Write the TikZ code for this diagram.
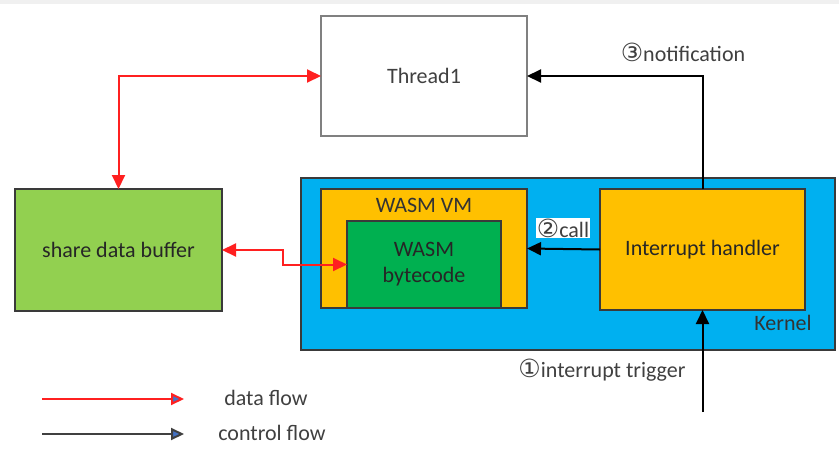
\documentclass[tikz,border=0pt]{standalone}
\usepackage{fontspec}
\setmainfont{Carlito}
\newfontfamily\circfont{DejaVu Sans}
\newcommand\stepnum[1]{{\circfont\fontsize{25}{25}\selectfont #1}}
\usetikzlibrary{arrows.meta}
\definecolor{kernelblue}{HTML}{00B0F0}
\definecolor{vmorange}{HTML}{FFC000}
\definecolor{codegreen}{HTML}{00B050}
\definecolor{buffergreen}{HTML}{92D050}
\definecolor{edgegray}{HTML}{3A3A3A}
\definecolor{threadgray}{HTML}{808080}
\definecolor{labelgray}{HTML}{404040}
\definecolor{flowred}{HTML}{FF2020}
\definecolor{tipblue}{HTML}{4472C4}
\tikzset{
  blockbox/.style={draw=edgegray, line width=1.8pt, rectangle, inner sep=2pt, outer sep=0pt,
    text=black!85, align=center},
  dataflow/.style={draw=flowred, line width=2pt,
    {Triangle[length=14pt,width=13pt]}-{Triangle[length=14pt,width=13pt]}},
  ctrlflow/.style={draw=black, line width=2pt, -{Triangle[length=14pt,width=13pt]}},
  steplabel/.style={text=labelgray, inner sep=1pt},
}
\begin{document}
\begin{tikzpicture}[x=1pt, y=-1pt, font=\fontsize{22}{26}\selectfont]
\useasboundingbox (0,0) rectangle (839,448);
\fill[black!6] (0,0) rectangle (839,4);

% kernel region with its components
\node[blockbox, fill=kernelblue, minimum width=534pt, minimum height=172pt] (kernel) at (568,264) {};
\node[text=black!80, anchor=center] (kernellabel) at (783,323) {Kernel};
\node[blockbox, fill=vmorange, minimum width=206pt, minimum height=119pt] (vm) at (424,248.5) {};
\node[text=black!80] (vmlabel) at (424,205) {WASM VM};
\node[blockbox, fill=codegreen, minimum width=154pt, minimum height=87pt] (code) at (424,264.5) {WASM\\bytecode};
\node[blockbox, fill=vmorange, minimum width=205pt, minimum height=121pt] (handler) at (702.5,249.5) {Interrupt handler};

% user side
\node[blockbox, draw=threadgray, fill=white, text=labelgray, minimum width=206pt, minimum height=120pt] (thread) at (424,76) {Thread1};
\node[blockbox, fill=buffergreen, minimum width=207pt, minimum height=122pt] (buffer) at (118.5,250) {share data buffer};

% data flow
\draw[dataflow] (thread.west) -| (buffer.north);
\draw[dataflow] (buffer.east) -- ++(61,0) |- (code.west);

% control flow
\draw[ctrlflow] (handler.north) |- (thread.east);
\draw[ctrlflow] (handler.west) -- (vm.east);
\coordinate (trigger) at (702.5,412);
\draw[ctrlflow] (trigger) -- (handler.south);

% step labels
\node[steplabel] (notif) at (683,52) {\stepnum{③}notification};
\node[steplabel, fill=white] (call) at (563,228) {\stepnum{②}call};
\node[steplabel] (trig) at (602,370) {\stepnum{①}interrupt trigger};

% legend
\coordinate (dA) at (42,399);
\coordinate (dB) at (184,399);
\coordinate (cA) at (42,434);
\coordinate (cB) at (184,434);
\draw[draw=flowred, line width=2pt, -{Triangle[length=13pt,width=12pt,fill=tipblue]}] (dA) -- (dB);
\draw[draw=black!75, line width=2pt, -{Triangle[length=13pt,width=12pt,fill=tipblue]}] (cA) -- (cB);
\node[text=labelgray] (dlabel) at (266,398) {data flow};
\node[text=labelgray] (clabel) at (272,433) {control flow};
\end{tikzpicture}
\end{document}
